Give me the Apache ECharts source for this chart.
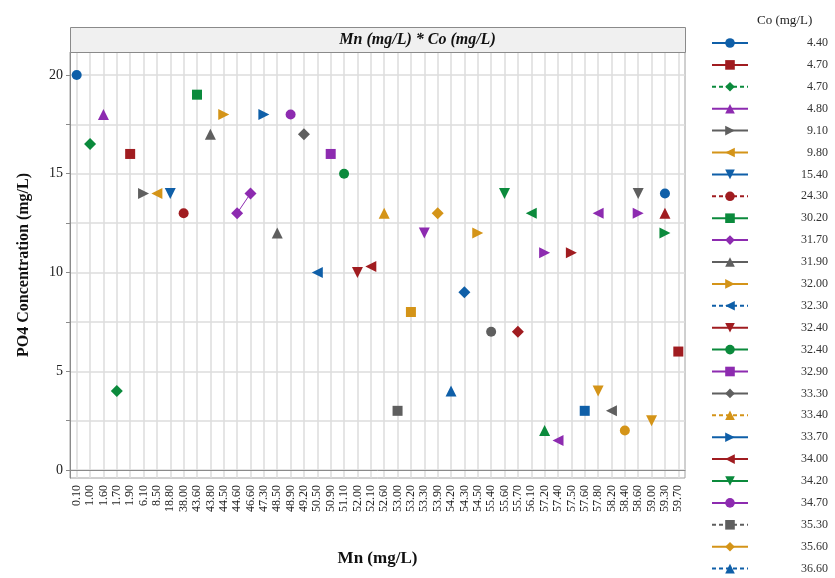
<!DOCTYPE html>
<html>
<head>
<meta charset="utf-8">
<script src="https://cdn.jsdelivr.net/npm/echarts@6/dist/echarts.min.js"></script>
<style>html,body{margin:0;padding:0;background:#fff}#c{width:835px;height:578px}</style>
</head>
<body>
<div id="c"></div>
<script>
// Mn categories (x axis tick labels, mg/L)
const mnLabels = ['0.10','1.00','1.60','1.70','1.90','6.10','8.50','18.80','38.00','43.60','43.80','44.50','44.60','46.60','47.30','48.50','48.90','49.20','50.50','50.90','51.10','52.00','52.10','52.60','53.00','53.20','53.30','53.90','54.20','54.30','54.50','55.40','55.60','55.70','56.10','57.20','57.40','57.50','57.60','57.80','58.20','58.40','58.60','59.00','59.30','59.70'];
// Co levels shown in legend
const coLegend = ['4.40','4.70','4.70','4.80','9.10','9.80','15.40','24.30','30.20','31.70','31.90','32.00','32.30','32.40','32.40','32.90','33.30','33.40','33.70','34.00','34.20','34.70','35.30','35.60','36.60'];
// y tick labels and gridlines
const yTicks = [0,5,10,15,20];
const yGrid = [0,2.5,5,7.5,10,12.5,15,17.5,20];
// points per Co level: [Mn category index, PO4 value]
const s01=[[0,20]], s02=[[4,16]], s03=[[1,16.5],[3,4]], s04=[[2,18]], s05=[[5,14]], s06=[[6,14]], s07=[[7,14]], s08=[[8,13]];
const s09=[[9,19]], s10=[[12,13],[13,14]], s11=[[10,17],[15,12]], s12=[[11,18],[30,12]], s13=[[18,10]], s14=[[21,10]], s15=[[20,15]], s16=[[19,16]];
const s17=[[17,17]], s18=[[23,13]], s19=[[14,18]], s20=[[22,10.3]], s21=[[32,14]], s22=[[16,18]], s23=[[24,3]], s24=[[27,13]], s25=[[28,4]];
const s26=[[37,11]], s27=[[34,13]], s28=[[26,12]], s29=[[31,7]], s30=[[25,8]], s31=[[29,9]], s32=[[44,13]], s33=[[44,12]], s34=[[36,1.5],[39,13]];
const s35=[[42,14]], s36=[[41,2]], s37=[[38,3]], s38=[[33,7]], s39=[[35,2]], s40=[[35,11],[42,13]], s41=[[40,3]], s42=[[39,4],[43,2.5]], s43=[[44,14]], s44=[[45,6]];
const allPoints=[s01,s02,s03,s04,s05,s06,s07,s08,s09,s10,s11,s12,s13,s14,s15,s16,s17,s18,s19,s20,s21,s22,s23,s24,s25,s26,s27,s28,s29,s30,s31,s32,s33,s34,s35,s36,s37,s38,s39,s40,s41,s42,s43,s44];

const palette=['#0f5fa8','#a01c20','#0b8a3c','#8d2bb0','#5f5f5f','#d49418'];
const symbols=['circle','rect','diamond','triangle','path://M0,0 L10,5 L0,10 Z','path://M10,0 L0,5 L10,10 Z','path://M0,0 L10,0 L5,10 Z'];
const sizes=[10,10,12,11,11,11,11];
const dashed=[2,7,12,17,22,24];
const serif='"Liberation Serif","Times New Roman",serif';

const series=allPoints.map((pts,i)=>{
  const arr=new Array(mnLabels.length).fill('-');
  pts.forEach(p=>{arr[p[0]]=p[1];});
  return {
    name:'c'+i,type:'line',data:arr,connectNulls:false,showAllSymbol:true,
    symbol:symbols[i%7],symbolSize:sizes[i%7],
    itemStyle:{color:palette[i%6]},
    lineStyle:{color:palette[i%6],width:1,type:dashed.includes(i)?[4,3]:'solid'},
    emphasis:{disabled:true},animation:false,z:3
  };
});

const chart=echarts.init(document.getElementById('c'),null,{renderer:'canvas'});
chart.setOption({
  animation:false,
  backgroundColor:'#fff',
  title:{text:'Co (mg/L)',left:752,top:9,textStyle:{fontFamily:serif,fontSize:13,fontWeight:'normal',color:'#222'}},
  legend:{
    orient:'vertical',left:711,top:37,padding:0,itemWidth:36,itemHeight:12,itemGap:9.9,
    data:coLegend.map((c,i)=>'c'+i),
    formatter:n=>'{a|'+coLegend[+n.slice(1)]+'}',
    textStyle:{fontFamily:serif,fontSize:12,color:'#333',rich:{a:{fontFamily:serif,fontSize:12,color:'#333',width:75,align:'right'}}},
    selectedMode:false
  },
  grid:{left:70,top:52,width:615,height:426,show:true,borderColor:'#a0a0a0',borderWidth:1,containLabel:false},
  xAxis:{
    type:'category',data:mnLabels,boundaryGap:true,
    name:'Mn (mg/L)',nameLocation:'middle',nameGap:72,
    nameTextStyle:{fontFamily:serif,fontSize:17,fontWeight:'bold',color:'#111'},
    axisLine:{lineStyle:{color:'#8a8a8a'}},
    axisTick:{interval:0,alignWithLabel:true,length:4,lineStyle:{color:'#8a8a8a'}},
    axisLabel:{interval:0,rotate:90,fontFamily:serif,fontSize:12,color:'#222',margin:7},
    splitLine:{show:true,interval:0,alignWithLabel:true,lineStyle:{color:'#dcdcdc',width:1.5}}
  },
  yAxis:{
    type:'value',min:-0.4,max:21.16,
    name:'PO4 Concentration (mg/L)',nameLocation:'middle',nameGap:38,
    nameTextStyle:{fontFamily:serif,fontSize:16,fontWeight:'bold',color:'#111'},
    axisLine:{show:true,lineStyle:{color:'#8a8a8a'}},
    axisTick:{show:true,customValues:yGrid,length:4,lineStyle:{color:'#8a8a8a'}},
    axisLabel:{customValues:yTicks,fontFamily:serif,fontSize:14,color:'#222',margin:7},
    splitLine:{show:true,lineStyle:{color:'#dcdcdc',width:1.5}}
  },
  graphic:[
    {type:'rect',left:70,top:27,shape:{width:615,height:25},style:{fill:'#f0f0f0',stroke:'#8a8a8a',lineWidth:1},z:10},
    {type:'text',left:'center',top:32,x:0,style:{text:'Mn (mg/L) * Co (mg/L)',font:'italic bold 16px '+serif,fill:'#111'},z:11}
  ],
  series:series
});
</script>
</body>
</html>
